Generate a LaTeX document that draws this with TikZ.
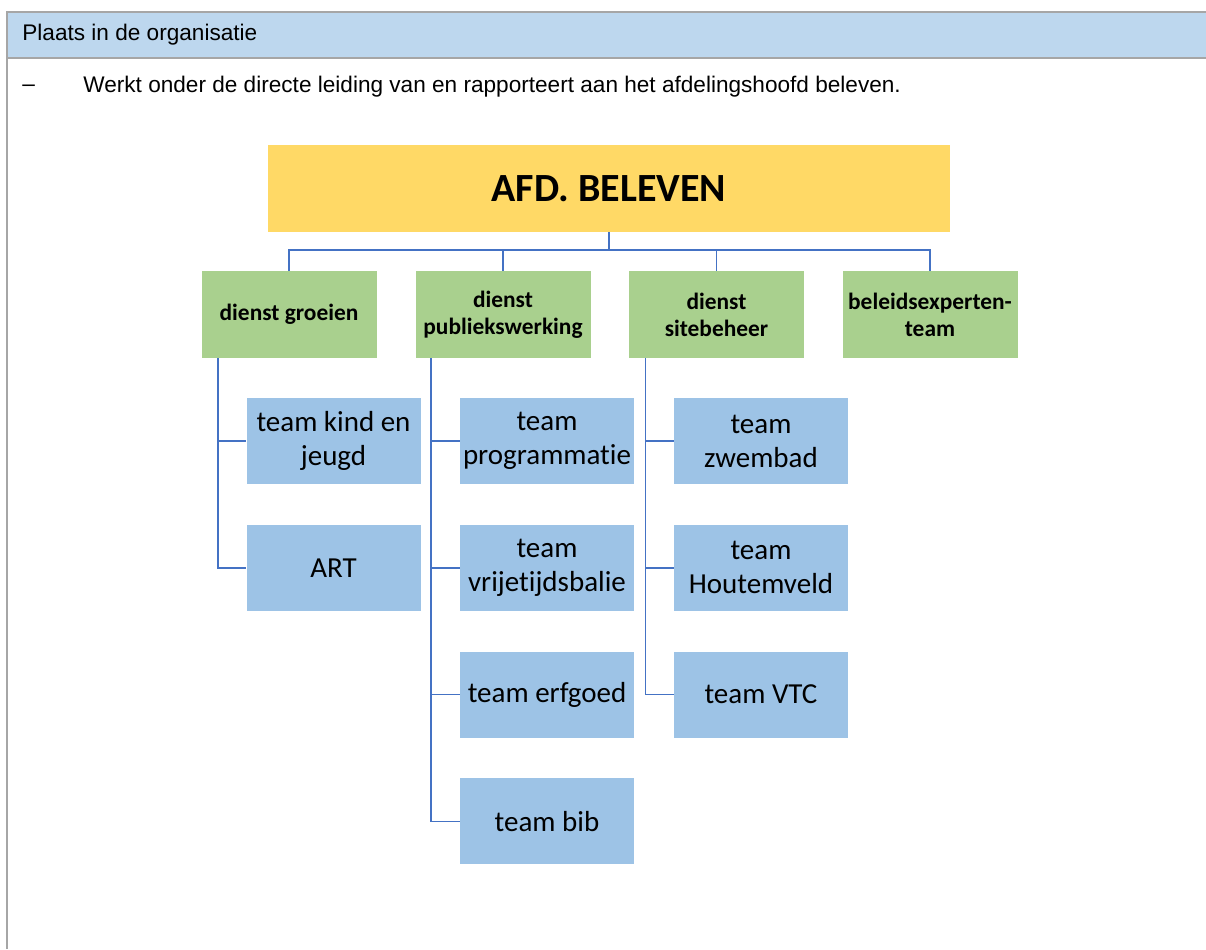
\documentclass[tikz,border=0pt]{standalone}
\usepackage{fontspec}
\setmainfont{Liberation Sans}
\newfontfamily\calfont[Ligatures=NoCommon]{Carlito}
\usetikzlibrary{positioning}

\definecolor{headblue}{HTML}{BDD7EE}
\definecolor{framegray}{HTML}{A6A6A6}
\definecolor{afdyellow}{HTML}{FFD966}
\definecolor{dienstgreen}{HTML}{A9D08E}
\definecolor{teamblue}{HTML}{9DC3E6}
\definecolor{linkblue}{HTML}{4472C4}

\tikzset{
  afdbox/.style={fill=afdyellow, minimum width=341pt, minimum height=43.5pt,
    font=\calfont\bfseries\fontsize{20}{24}\selectfont},
  dienstbox/.style={fill=dienstgreen, minimum width=87.5pt, minimum height=43.5pt,
    align=center, inner sep=0pt, font=\calfont\bfseries\fontsize{11.7}{13.5}\selectfont},
  teambox/.style={fill=teamblue, minimum width=87pt, minimum height=43pt,
    align=center, inner sep=0pt, font=\calfont\fontsize{14.5}{17}\selectfont},
  link/.style={draw=linkblue, line width=0.8pt},
  bodytext/.style={anchor=west, inner sep=0pt, font=\fontsize{11.3}{13.5}\selectfont},
}

\begin{document}
\begin{tikzpicture}[x=0.5pt, y=-0.5pt, node distance=20pt]
            \useasboundingbox (0,0) rectangle (1206,949);
            % Draw frame and header
            \fill[headblue] (7,12) rectangle (1206,58);
            \draw[framegray, line width=1pt] (7,949) -- (7,12) -- (1206,12);
            \draw[framegray, line width=1pt] (7,58) -- (1206,58);
            \node (head) [bodytext] at (22,35) {Plaats in de organisatie};
            \node (dash) [bodytext] at (22,88) {--};
            \node (werkt) [bodytext] at (83,87)
                  {Werkt onder de directe leiding van en rapporteert aan het afdelingshoofd beleven.};
            % afdeling
            \node (afd) [afdbox] at (609,188.5) {AFD. BELEVEN};
            \coordinate (bar) at (609,250);
            % diensten
            \node (groei) [dienstbox] at (289,314.5) {dienst groeien};
            \node (publiek) [dienstbox] at (503,314.5) {dienst\\publiekswerking};
            \node (site) [dienstbox] at (716.5,314.5) {dienst\\sitebeheer};
            \node (beleid) [dienstbox] at (930,314.5) {beleidsexperten-\\team};
            % teams groeien
            \node (kind) [teambox] at (333.5,441) {team kind en\\jeugd};
            \node (art) [teambox, below=of kind] {ART};
            % teams publiekswerking
            \node (prog) [teambox] at (547,441) {team\\programmatie};
            \node (balie) [teambox, below=of prog] {team\\vrijetijdsbalie};
            \node (erfgoed) [teambox, below=of balie] {team erfgoed};
            \node (bib) [teambox, below=of erfgoed] {team bib};
            % teams sitebeheer
            \node (zwem) [teambox] at (761,441) {team\\zwembad};
            \node (houtem) [teambox, below=of zwem] {team\\Houtemveld};
            \node (vtc) [teambox, below=of houtem] {team VTC};
            % connectors
            \draw[link] (afd.south) -- (bar);
            \foreach \d in {groei, publiek, site, beleid}
                \draw[link] (bar) -| (\d.north);
            \foreach \t in {kind, art}
                \draw[link] ([xshift=8.5pt]groei.south west) |- (\t.west);
            \foreach \t in {prog, balie, erfgoed, bib}
                \draw[link] ([xshift=8pt]publiek.south west) |- (\t.west);
            \foreach \t in {zwem, houtem, vtc}
                \draw[link] ([xshift=8.5pt]site.south west) |- (\t.west);
          \end{tikzpicture}
\end{document}
